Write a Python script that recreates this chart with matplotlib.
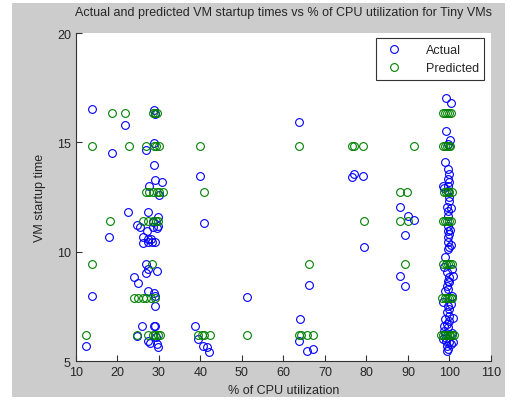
import matplotlib
matplotlib.use("Agg")
import matplotlib.pyplot as plt
from matplotlib.patches import Rectangle

plt.rcParams['font.family'] = ['Liberation Sans', 'DejaVu Sans']

# measured startup times (blue)
actual_x = [13.9, 12.5, 13.85, 18.7, 18.1, 21.8, 22.7, 24.0, 25.1, 24.7, 25.5, 24.7, 25.9,
            26.9, 28.9, 28.9, 29.1, 28.9, 29.1, 30.9, 27.6, 30.1,
            27.3, 29.9, 28.5, 29.9, 28.7, 29.6, 27.1,
            26.3, 27.3, 28.1, 29.1, 26.3, 27.3, 28.3,
            26.9, 27.3, 26.9, 29.6, 27.5, 28.9, 29.1, 29.1,
            28.9, 29.2, 27.5, 27.9, 29.5, 29.9, 29.3,
            38.7, 39.5, 40.7, 41.5, 42.2, 40.0, 40.9, 51.2,
            63.8, 64.0, 63.8, 65.8, 67.2, 66.1,
            76.6, 77.1, 79.1, 79.5,
            88.1, 89.9, 91.5, 89.3, 88.2, 89.3,
            99.2, 100.4, 99.2, 100.2, 99.7, 98.9, 99.6, 99.8, 99.7, 99.8, 99.7, 98.5, 99.7,
            99.8, 100.0, 99.4, 99.6, 99.7, 99.7, 99.6, 100.0, 99.7, 99.6, 99.8, 99.7, 98.9,
            99.3, 99.8, 99.6, 100.0, 99.3, 99.6, 98.9, 99.6, 100.0, 99.3, 99.8, 98.9, 100.0,
            99.3, 99.6, 98.8, 99.1, 99.8, 99.3, 99.6, 99.5,
            100.5, 100.8, 98.6, 100.6, 98.4, 100.4, 100.9, 98.7, 100.7, 100.3, 98.5, 100.9,
            99.2, 100.2, 100.4, 100.3, 98.6]
actual_y = [16.55, 5.71, 7.97, 14.54, 10.66, 15.8, 11.83, 8.84, 8.6, 11.22, 11.12, 6.15, 6.6,
            14.66, 14.97, 16.47, 16.3, 13.98, 13.3, 13.19, 13.0, 12.6,
            11.83, 11.58, 11.35, 11.19, 11.15, 11.09, 10.96,
            10.66, 10.58, 10.58, 10.46, 10.4, 10.43, 10.43,
            9.44, 9.21, 9.03, 9.14, 8.22, 8.12, 8.0, 7.51,
            6.63, 6.6, 5.94, 5.84, 5.79, 5.64, 6.1,
            6.6, 6.02, 5.71, 5.64, 5.41, 13.45, 11.3, 7.95,
            15.94, 6.93, 5.94, 5.48, 5.56, 8.5,
            13.4, 13.55, 13.47, 10.23,
            12.05, 11.62, 11.47, 10.77, 8.91, 8.45,
            17.05, 16.8, 15.5, 15.1, 14.95, 14.09, 13.78, 13.55, 13.33, 13.17, 13.02, 13.02, 12.79,
            12.49, 12.33, 12.03, 11.88, 11.65, 11.19, 10.96, 10.81, 10.66, 10.43, 10.2, 10.13, 9.75,
            9.06, 8.84, 8.68, 8.61, 8.45, 8.3, 8.22, 7.54, 7.39, 7.24, 7.08, 6.93, 6.85,
            6.7, 6.55, 6.62, 5.94, 5.87, 5.71, 5.56, 5.48,
            9.2, 8.9, 9.3, 8.0, 7.7, 7.6, 7.0, 6.4, 6.3, 5.8, 6.0, 5.9,
            6.05, 11.0, 10.3, 12.0, 12.9]

# model predictions (green)
pred_x = [13.9, 12.5, 13.85, 18.7, 18.3, 21.8, 22.8,
          24.0, 25.1, 26.1, 26.9, 28.1, 29.1,
          24.7, 27.5, 28.5, 29.1, 29.7, 30.3,
          28.3,
          26.3, 27.5, 28.5, 29.3, 29.9,
          26.9, 27.7, 28.7, 29.6, 30.1, 31.1,
          27.0, 28.9, 29.3, 30.0,
          28.7, 29.1, 29.6,
          39.5, 40.4, 41.0, 42.4, 40.0, 40.9, 51.2,
          63.8, 63.8, 64.2, 65.8, 67.2, 66.1,
          76.5, 77.0, 79.1, 79.5,
          88.1, 89.7, 88.1, 89.9, 91.5, 89.3,
          98.5, 99.0, 99.4, 99.8, 100.3,
          98.4, 99.0, 99.5, 99.9, 100.2,
          98.6, 99.2, 99.6, 100.0, 100.5,
          98.5, 99.0, 99.5, 99.9, 100.4,
          98.5, 99.1, 99.6, 100.2, 100.6,
          98.3, 98.9, 99.4, 99.8, 100.3, 100.6,
          98.0, 98.5, 99.0, 99.4, 99.8, 100.2, 100.6, 101.1]
pred_y = [14.84, 6.2, 9.44, 16.34, 11.42, 16.34, 14.84,
          7.88, 7.88, 7.88, 7.88, 7.88, 7.88,
          6.2, 6.2, 6.2, 6.2, 6.2, 6.2,
          9.44,
          11.42, 11.42, 11.42, 11.42, 11.42,
          12.74, 12.74, 12.74, 12.74, 12.74, 12.74,
          14.84, 14.84, 14.84, 14.84,
          16.34, 16.34, 16.34,
          6.2, 6.2, 6.2, 6.2, 14.84, 12.74, 6.2,
          14.84, 6.2, 6.2, 6.2, 6.2, 9.44,
          14.84, 14.84, 14.84, 11.42,
          12.74, 12.74, 11.42, 11.42, 14.84, 9.44,
          16.34, 16.34, 16.34, 16.34, 16.34,
          14.84, 14.84, 14.84, 14.84, 14.84,
          12.74, 12.74, 12.74, 12.74, 12.74,
          11.42, 11.42, 11.42, 11.42, 11.42,
          9.44, 9.44, 9.44, 9.44, 9.44,
          7.88, 7.88, 7.88, 7.88, 7.88, 7.88,
          6.2, 6.2, 6.2, 6.2, 6.2, 6.2, 6.2, 6.2]

x_ticks = list(range(10, 111, 10))
y_ticks = [5, 10, 15, 20]

fs = 9.0
text_col = '#262626'

fig = plt.figure(figsize=(5.3, 4.02), dpi=100, facecolor='white')
# grey window background
fig.patches.append(Rectangle((12 / 530, 4 / 402), (505 - 12) / 530, (398 - 4) / 402,
                             transform=fig.transFigure, facecolor='#cccccc',
                             edgecolor='none', zorder=-10))

ax = fig.add_axes([75.7 / 530, 1 - 362.3 / 402, (491 - 75.7) / 530, (362.3 - 34) / 402])
ax.set_facecolor('white')

ax.plot(actual_x, actual_y, 'o', mfc='none', mec=(0, 0, 1), ms=5.6, mew=0.8,
        label='Actual')
ax.plot(pred_x, pred_y, 'o', mfc='none', mec=(0, 0.5, 0), ms=5.6, mew=0.8,
        label='Predicted')

ax.set_xlim(10, 110)
ax.set_ylim(5, 20)
ax.set_xticks(x_ticks)
ax.set_yticks(y_ticks)
for side in ['top', 'right']:
    ax.spines[side].set_visible(False)
for side in ['left', 'bottom']:
    ax.spines[side].set_linewidth(0.8)
    ax.spines[side].set_color('#333333')
ax.tick_params(direction='in', length=4, width=0.8, labelsize=fs, colors='#333333',
               labelcolor=text_col)

ax.set_title('Actual and predicted VM startup times vs % of CPU utilization for Tiny VMs',
             fontsize=fs, pad=13, color=text_col)
ax.set_xlabel('% of CPU utilization', fontsize=fs, labelpad=4, color=text_col)
ax.set_ylabel('VM startup time', fontsize=fs, labelpad=8, color=text_col)

leg = ax.legend(loc='upper right', bbox_to_anchor=(0.993, 0.995), fontsize=fs,
                fancybox=False, edgecolor='#333333', framealpha=1,
                handletextpad=1.5, borderpad=0.45, labelspacing=0.5,
                borderaxespad=0.3)
leg.get_frame().set_linewidth(0.8)
for t in leg.get_texts():
    t.set_color(text_col)

fig.savefig('out.png', dpi=100, facecolor=fig.get_facecolor())
